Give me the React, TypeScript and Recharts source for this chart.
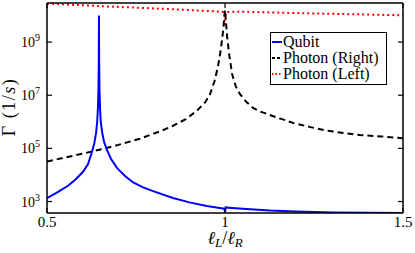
import { LineChart, Line, XAxis, YAxis, Legend, Label } from 'recharts';

// ratio l_L / l_R and decay rates (1/s)
const qubitX = [0.5, 0.53, 0.56, 0.58, 0.6, 0.615, 0.626, 0.633, 0.638, 0.641, 0.643, 0.6445, 0.6455, 0.646, 0.6465, 0.6475, 0.649, 0.651, 0.655, 0.66, 0.668, 0.68, 0.697, 0.72, 0.742, 0.77, 0.8, 0.854, 0.9, 0.949, 0.985, 0.998, 1.0, 1.002, 1.02, 1.06, 1.126, 1.2, 1.3, 1.4, 1.5];
const qubitRate = [1350, 2240, 4000, 6800, 1.26e4, 2.5e4, 7.1e4, 1.6e5, 4.0e5, 1.0e6, 3.2e6, 1.6e7, 2.0e8, 1.0e10, 2.0e8, 1.6e7, 3.2e6, 1.0e6, 4.0e5, 1.8e5, 8.9e4, 4.0e4, 1.8e4, 8900, 5200, 3400, 2400, 1350, 930, 680, 575, 537, 400, 600, 575, 525, 457, 417, 389, 380, 372];

const rightX = [0.5, 0.55, 0.6, 0.65, 0.7, 0.761, 0.789, 0.82, 0.854, 0.89, 0.921, 0.945, 0.958, 0.97, 0.98, 0.988, 0.994, 1.0, 1.006, 1.012, 1.02, 1.03, 1.042, 1.06, 1.079, 1.1, 1.126, 1.16, 1.191, 1.24, 1.287, 1.34, 1.379, 1.44, 1.5];
const rightRate = [3.2e4, 4.5e4, 6.3e4, 9.1e4, 1.35e5, 2.3e5, 3.2e5, 4.5e5, 7.1e5, 1.26e6, 2.6e6, 5.6e6, 1.1e7, 3.2e7, 1.15e8, 5.0e8, 2.2e9, 1.6e10, 1.6e9, 3.2e8, 6.3e7, 2.2e7, 1.1e7, 5.6e6, 3.3e6, 2.4e6, 1.8e6, 1.26e6, 9.1e5, 6.3e5, 4.6e5, 3.7e5, 3.2e5, 2.8e5, 2.4e5];

const leftX = [0.5, 0.65, 0.84, 0.99, 0.998, 1.0, 1.002, 1.04, 1.2, 1.5];
const leftRate = [2.8e10, 2.25e10, 1.75e10, 1.4e10, 1.35e10, 4.4e9, 1.35e10, 1.4e10, 1.23e10, 1.02e10];

const xTicks = [0.5, 1, 1.5];
const yTicks = [1e3, 1e5, 1e7, 1e9];
const yDomain = [370, 2.95e10];

const toPoints = (xs: number[], ys: number[]) => xs.map((x, i) => ({ x, y: ys[i] }));
const qubitData = toPoints(qubitX, qubitRate);
const rightData = toPoints(rightX, rightRate);
const leftData = toPoints(leftX, leftRate);

const FONT = "'Liberation Serif', 'DejaVu Serif', serif";

const PowerTick = (props: any) => {
  const { x, y, payload } = props;
  const exp = Math.round(Math.log10(payload.value));
  return (
    <text x={x} y={y + 5} textAnchor="end" fontFamily={FONT} fontSize={14} fill="#000">
      10<tspan dy={-6} fontSize={10}>{exp}</tspan>
    </text>
  );
};

const NoTick = () => <g />;

const XTitle = (props: any) => {
  const { viewBox } = props;
  const cx = viewBox.x + viewBox.width / 2;
  return (
    <text x={cx} y={244} textAnchor="middle" fontFamily={FONT} fontSize={18} fontStyle="italic" fill="#000">
      ℓ<tspan dy={3} fontSize={13}>L</tspan>
      <tspan dy={-3} fontStyle="normal">/</tspan>ℓ<tspan dy={3} fontSize={13}>R</tspan>
    </text>
  );
};

const YTitle = () => (
  <text x={0} y={0} transform="translate(15,107) rotate(-90)" textAnchor="middle" fontFamily={FONT} fontSize={18} fill="#000" letterSpacing={1.5}>
    Γ (1/<tspan fontStyle="italic">s</tspan>)
  </text>
);

const legendItems = [
  { name: 'Qubit', color: '#0000ff', dash: undefined },
  { name: 'Photon (Right)', color: '#000', dash: '3 2' },
  { name: 'Photon (Left)', color: '#ff0000', dash: '1.5 2' },
];

const LegendBox = () => (
  <div style={{ border: '1.5px solid #000', background: '#fff', width: 114, padding: '1px 0 2px 1px', fontFamily: FONT, fontSize: 16, lineHeight: '16px' }}>
    {legendItems.map(it => (
      <div key={it.name} style={{ display: 'flex', alignItems: 'center', whiteSpace: 'nowrap' }}>
        <svg width={10} height={4} style={{ marginRight: 1 }}>
          <line x1={0} y1={2} x2={10} y2={2} stroke={it.color} strokeWidth={2} strokeDasharray={it.dash} />
        </svg>
        {it.name}
      </div>
    ))}
  </div>
);

export default function App() {
  return (
    <div style={{ position: 'absolute', left: 0, top: 0 }}>
      <LineChart width={415} height={253} margin={{ top: 0, right: 0, bottom: 0, left: 0 }}>
        <XAxis
          xAxisId="b"
          dataKey="x"
          type="number"
          domain={[0.5, 1.5]}
          ticks={xTicks}
          allowDataOverflow
          height={40}
          tickSize={-5}
          tickMargin={8}
          axisLine={{ stroke: '#000', strokeWidth: 1.5 }}
          tickLine={{ stroke: '#000', strokeWidth: 1.2 }}
          tick={{ fontFamily: FONT, fontSize: 15, fill: '#000' }}
        >
          <Label content={XTitle} />
        </XAxis>
        <XAxis
          xAxisId="t"
          orientation="top"
          dataKey="x"
          type="number"
          domain={[0.5, 1.5]}
          ticks={xTicks}
          allowDataOverflow
          height={3}
          tickSize={-5}
          axisLine={{ stroke: '#000', strokeWidth: 1.5 }}
          tickLine={{ stroke: '#000', strokeWidth: 1.2 }}
          tick={NoTick}
        />
        <YAxis
          yAxisId="l"
          scale="log"
          type="number"
          domain={yDomain}
          ticks={yTicks}
          allowDataOverflow
          width={47}
          tickSize={-5}
          tickMargin={12}
          axisLine={{ stroke: '#000', strokeWidth: 1.5 }}
          tickLine={{ stroke: '#000', strokeWidth: 1.2 }}
          tick={PowerTick}
        >
          <Label content={YTitle} />
        </YAxis>
        <YAxis
          yAxisId="r"
          orientation="right"
          scale="log"
          type="number"
          domain={yDomain}
          ticks={yTicks}
          allowDataOverflow
          width={12}
          tickSize={-5}
          axisLine={{ stroke: '#000', strokeWidth: 1.5 }}
          tickLine={{ stroke: '#000', strokeWidth: 1.2 }}
          tick={NoTick}
        />
        <Line xAxisId="b" yAxisId="l" data={leftData} dataKey="y" name="Photon (Left)" type="linear" stroke="#ff0000" strokeWidth={2} strokeDasharray="2 3" dot={false} isAnimationActive={false} />
        <Line xAxisId="b" yAxisId="l" data={rightData} dataKey="y" name="Photon (Right)" type="linear" stroke="#000" strokeWidth={2} strokeDasharray="6 4" dot={false} isAnimationActive={false} />
        <Line xAxisId="b" yAxisId="l" data={qubitData} dataKey="y" name="Qubit" type="linear" stroke="#0000ff" strokeWidth={2} dot={false} isAnimationActive={false} />
        <Legend
          layout="vertical"
          align="center"
          verticalAlign="middle"
          content={LegendBox}
          wrapperStyle={{ left: 270, top: 32, width: 118, height: 49 }}
        />
      </LineChart>
    </div>
  );
}
